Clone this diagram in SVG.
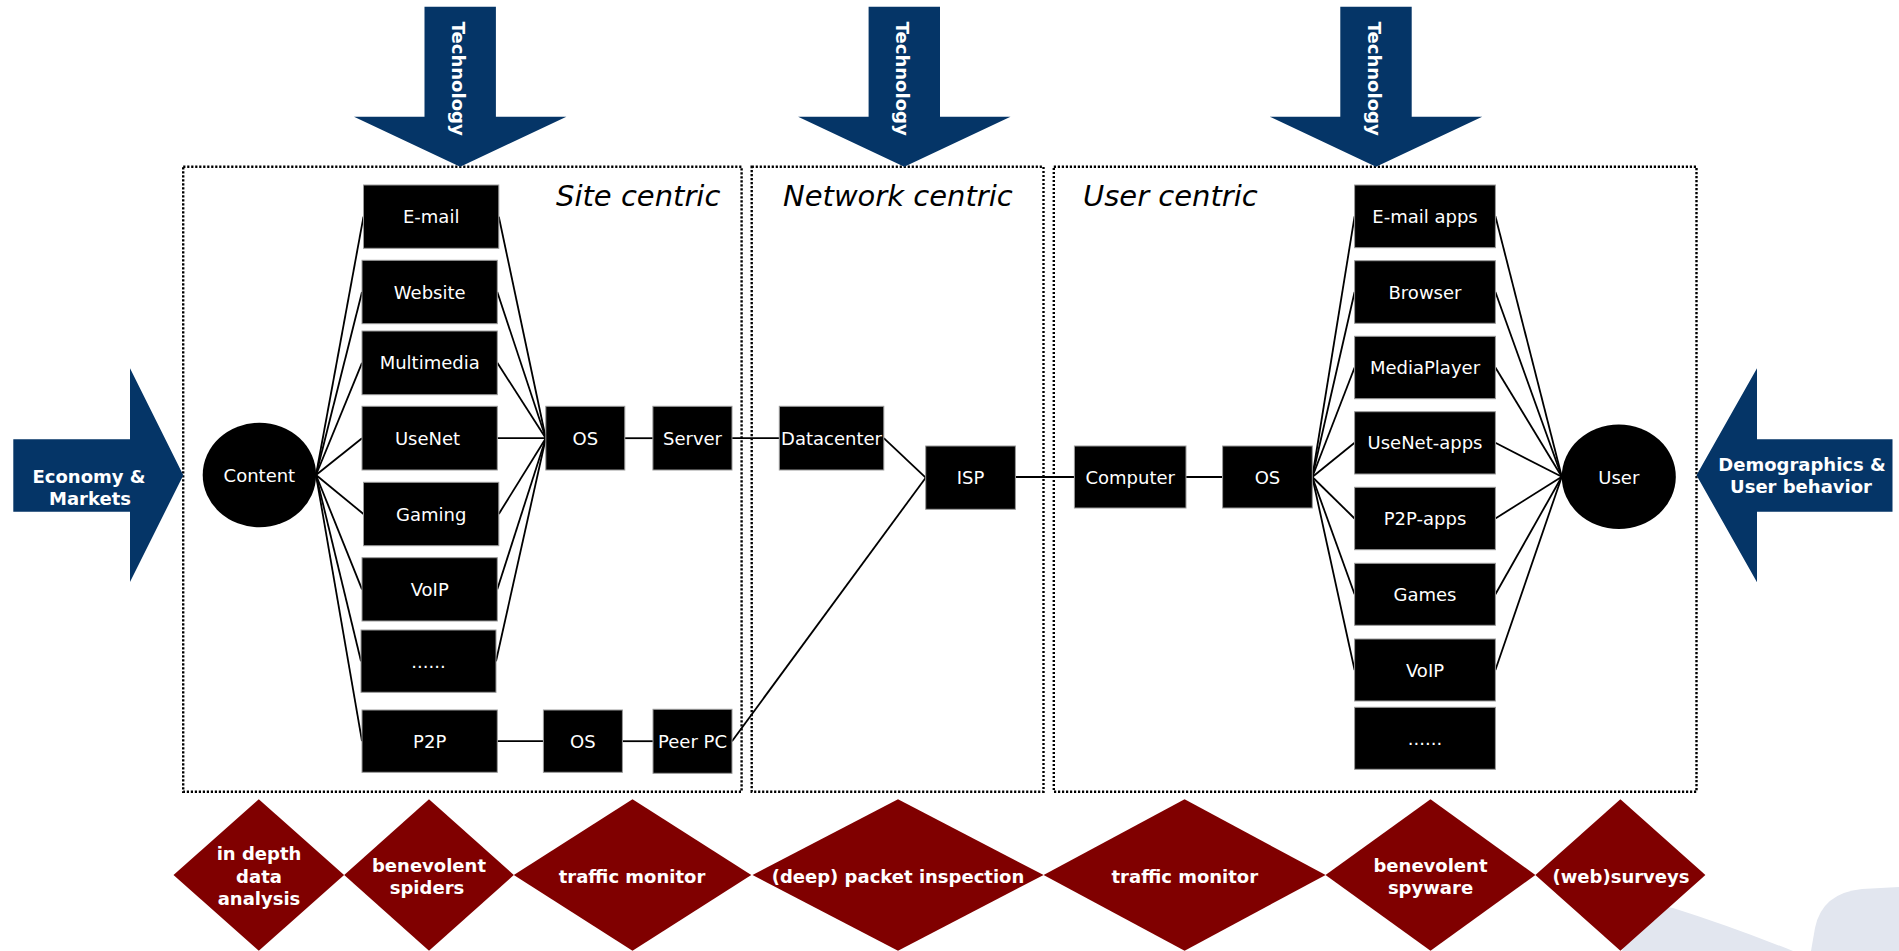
<svg xmlns="http://www.w3.org/2000/svg" width="1899" height="951" viewBox="0 0 1899 951">
  <style>
    .bg { fill: #ffffff; }
    .deco { fill: #e2e6ef; }
    .zone { fill: none; stroke: #000000; stroke-width: 2.4; stroke-dasharray: 2.2 1.8; }
    .zone-title { font-family: "DejaVu Sans", Verdana, sans-serif; font-style: italic; font-size: 29px; fill: #000000; }
    .box { fill: #000000; stroke: #9a9a9a; stroke-width: 1; }
    .blob { fill: #000000; }
    .lbl { font-family: "DejaVu Sans", Verdana, sans-serif; font-size: 18px; fill: #ffffff; text-anchor: middle; }
    .link { stroke: #000000; stroke-width: 1.8; fill: none; }
    .force { fill: #053567; }
    .force-txt { font-family: "DejaVu Sans", Verdana, sans-serif; font-weight: bold; font-size: 18px; fill: #ffffff; text-anchor: middle; }
    .method { fill: #800000; }
    .method-txt { font-family: "DejaVu Sans", Verdana, sans-serif; font-weight: bold; font-size: 18px; fill: #ffffff; text-anchor: middle; }
  </style>

  <rect class="bg" x="0" y="0" width="1899" height="951"/>

  <!-- template decoration, lower right -->
  <g id="decoration">
    <path class="deco" d="M1650,904 L1673,908 Q1730,926 1793,951 L1622,951 Z"/>
    <path class="deco" d="M1811,951 L1815,928 Q1822,893 1862,889 L1899,887 L1899,951 Z"/>
  </g>

  <!-- the three measurement zones -->
  <g id="zones">
    <g id="zone-site">
      <rect class="zone" x="183.2" y="166.7" width="558.4" height="625"/>
      <text class="zone-title" x="556" y="206">Site centric</text>
    </g>
    <g id="zone-network">
      <rect class="zone" x="751.7" y="166.7" width="291.8" height="625"/>
      <text class="zone-title" x="783" y="206">Network centric</text>
    </g>
    <g id="zone-user">
      <rect class="zone" x="1053.8" y="166.7" width="642.7" height="625"/>
      <text class="zone-title" x="1083" y="206">User centric</text>
    </g>
  </g>

  <!-- connectors -->
  <g id="connectors">
    <!-- content to services -->
    <line class="link" x1="316" y1="475" x2="363.5" y2="216.7"/>
    <line class="link" x1="316" y1="475" x2="362" y2="292"/>
    <line class="link" x1="316" y1="475" x2="362" y2="362.8"/>
    <line class="link" x1="316" y1="475" x2="362" y2="438.2"/>
    <line class="link" x1="316" y1="475" x2="363.5" y2="514"/>
    <line class="link" x1="316" y1="475" x2="362" y2="589.3"/>
    <line class="link" x1="316" y1="475" x2="361" y2="661.2"/>
    <line class="link" x1="316" y1="475" x2="362" y2="741.2"/>
    <!-- services to server OS -->
    <line class="link" x1="498.8" y1="216.7" x2="545.8" y2="438.2"/>
    <line class="link" x1="497.3" y1="292" x2="545.8" y2="438.2"/>
    <line class="link" x1="497.3" y1="362.8" x2="545.8" y2="438.2"/>
    <line class="link" x1="497.3" y1="438.2" x2="545.8" y2="438.2"/>
    <line class="link" x1="498.8" y1="514" x2="545.8" y2="438.2"/>
    <line class="link" x1="497.3" y1="589.3" x2="545.8" y2="438.2"/>
    <line class="link" x1="496" y1="661.2" x2="545.8" y2="438.2"/>
    <!-- server chain -->
    <line class="link" x1="624.8" y1="438.2" x2="652.9" y2="438.2"/>
    <line class="link" x1="732" y1="438.2" x2="779.3" y2="438.2"/>
    <line class="link" x1="883.8" y1="438.2" x2="925.7" y2="477.7"/>
    <!-- peer chain -->
    <line class="link" x1="497.3" y1="741.2" x2="543.4" y2="741.2"/>
    <line class="link" x1="622.4" y1="741.2" x2="653" y2="741.2"/>
    <line class="link" x1="732" y1="741.2" x2="925.7" y2="477.7"/>
    <!-- ISP to user side -->
    <line class="link" x1="1015.4" y1="477" x2="1074.4" y2="477"/>
    <line class="link" x1="1186" y1="477" x2="1222.6" y2="477"/>
    <!-- client OS to applications -->
    <line class="link" x1="1312.3" y1="477" x2="1354.6" y2="216.3"/>
    <line class="link" x1="1312.3" y1="477" x2="1354.6" y2="292"/>
    <line class="link" x1="1312.3" y1="477" x2="1354.6" y2="367.5"/>
    <line class="link" x1="1312.3" y1="477" x2="1354.6" y2="442.8"/>
    <line class="link" x1="1312.3" y1="477" x2="1354.6" y2="518.5"/>
    <line class="link" x1="1312.3" y1="477" x2="1354.6" y2="594.3"/>
    <line class="link" x1="1312.3" y1="477" x2="1354.6" y2="670"/>
    <!-- applications to user -->
    <line class="link" x1="1495.4" y1="216.3" x2="1561.8" y2="476.7"/>
    <line class="link" x1="1495.4" y1="292" x2="1561.8" y2="476.7"/>
    <line class="link" x1="1495.4" y1="367.5" x2="1561.8" y2="476.7"/>
    <line class="link" x1="1495.4" y1="442.8" x2="1561.8" y2="476.7"/>
    <line class="link" x1="1495.4" y1="518.5" x2="1561.8" y2="476.7"/>
    <line class="link" x1="1495.4" y1="594.3" x2="1561.8" y2="476.7"/>
    <line class="link" x1="1495.4" y1="670" x2="1561.8" y2="476.7"/>
  </g>

  <!-- site side nodes -->
  <g id="content">
    <ellipse class="blob" cx="259.4" cy="475" rx="56.7" ry="52.3"/>
    <text class="lbl" x="259.4" y="482">Content</text>
  </g>
  <g id="email">
    <rect class="box" x="363.5" y="185" width="135.3" height="63.3"/>
    <text class="lbl" x="431.2" y="223.2">E-mail</text>
  </g>
  <g id="website">
    <rect class="box" x="362" y="260.3" width="135.3" height="63.4"/>
    <text class="lbl" x="429.7" y="298.5">Website</text>
  </g>
  <g id="multimedia">
    <rect class="box" x="362" y="331" width="135.3" height="63.7"/>
    <text class="lbl" x="429.7" y="369.3">Multimedia</text>
  </g>
  <g id="usenet">
    <rect class="box" x="362" y="406.3" width="135.3" height="63.7"/>
    <text class="lbl" x="427.5" y="444.7">UseNet</text>
  </g>
  <g id="gaming">
    <rect class="box" x="363.5" y="482.3" width="135.3" height="63.4"/>
    <text class="lbl" x="431.2" y="520.5">Gaming</text>
  </g>
  <g id="voip">
    <rect class="box" x="362" y="557.7" width="135.3" height="63.3"/>
    <text class="lbl" x="429.7" y="595.8">VoIP</text>
  </g>
  <g id="more-services">
    <rect class="box" x="361" y="630" width="135" height="62.3"/>
    <text class="lbl" x="428.5" y="667.7" font-size="12">......</text>
  </g>
  <g id="p2p">
    <rect class="box" x="362" y="710" width="135.3" height="62.3"/>
    <text class="lbl" x="429.7" y="747.7">P2P</text>
  </g>
  <g id="server-os">
    <rect class="box" x="545.8" y="406.3" width="79" height="63.7"/>
    <text class="lbl" x="585.3" y="444.7">OS</text>
  </g>
  <g id="server">
    <rect class="box" x="652.9" y="406.3" width="79.1" height="63.7"/>
    <text class="lbl" x="692.5" y="444.7">Server</text>
  </g>
  <g id="peer-os">
    <rect class="box" x="543.4" y="710" width="79" height="62.3"/>
    <text class="lbl" x="582.9" y="747.7">OS</text>
  </g>
  <g id="peer-pc">
    <rect class="box" x="653" y="709.3" width="79" height="64"/>
    <text class="lbl" x="692.5" y="747.7">Peer PC</text>
  </g>

  <!-- network side nodes -->
  <g id="datacenter">
    <rect class="box" x="779.3" y="406.3" width="104.5" height="63.7"/>
    <text class="lbl" x="831.5" y="444.7">Datacenter</text>
  </g>
  <g id="isp">
    <rect class="box" x="925.7" y="446" width="89.7" height="63.3"/>
    <text class="lbl" x="970.5" y="484.2">ISP</text>
  </g>

  <!-- user side nodes -->
  <g id="computer">
    <rect class="box" x="1074.4" y="446" width="111.6" height="62"/>
    <text class="lbl" x="1130.2" y="483.5">Computer</text>
  </g>
  <g id="client-os">
    <rect class="box" x="1222.6" y="446" width="89.7" height="62"/>
    <text class="lbl" x="1267.5" y="483.5">OS</text>
  </g>
  <g id="email-apps">
    <rect class="box" x="1354.6" y="185" width="140.8" height="62.7"/>
    <text class="lbl" x="1425" y="222.8">E-mail apps</text>
  </g>
  <g id="browser">
    <rect class="box" x="1354.6" y="260.7" width="140.8" height="62.6"/>
    <text class="lbl" x="1425" y="298.5">Browser</text>
  </g>
  <g id="mediaplayer">
    <rect class="box" x="1354.6" y="336.3" width="140.8" height="62.4"/>
    <text class="lbl" x="1425" y="374">MediaPlayer</text>
  </g>
  <g id="usenet-apps">
    <rect class="box" x="1354.6" y="411.7" width="140.8" height="62.3"/>
    <text class="lbl" x="1425" y="449.3">UseNet-apps</text>
  </g>
  <g id="p2p-apps">
    <rect class="box" x="1354.6" y="487.3" width="140.8" height="62.4"/>
    <text class="lbl" x="1425" y="525">P2P-apps</text>
  </g>
  <g id="games">
    <rect class="box" x="1354.6" y="563.3" width="140.8" height="62"/>
    <text class="lbl" x="1425" y="600.8">Games</text>
  </g>
  <g id="voip-apps">
    <rect class="box" x="1354.6" y="639" width="140.8" height="62"/>
    <text class="lbl" x="1425" y="676.5">VoIP</text>
  </g>
  <g id="more-apps">
    <rect class="box" x="1354.6" y="707.3" width="140.8" height="62"/>
    <text class="lbl" x="1425" y="744.8" font-size="12">......</text>
  </g>
  <g id="user">
    <ellipse class="blob" cx="1618.8" cy="476.7" rx="57" ry="52.3"/>
    <text class="lbl" x="1618.8" y="483.5">User</text>
  </g>

  <!-- driving forces -->
  <g id="technology-site">
    <polygon class="force" points="424.5,6.7 495.9,6.7 495.9,116.7 566.4,116.7 460.2,166.7 354,116.7 424.5,116.7"/>
    <text class="force-txt" transform="translate(452.2,21.7) rotate(90)" style="text-anchor:start">Technology</text>
  </g>
  <g id="technology-network">
    <polygon class="force" points="868.6,6.7 940,6.7 940,116.7 1010.5,116.7 904.3,166.7 798.1,116.7 868.6,116.7"/>
    <text class="force-txt" transform="translate(896.3,21.7) rotate(90)" style="text-anchor:start">Technology</text>
  </g>
  <g id="technology-user">
    <polygon class="force" points="1340.3,6.7 1411.7,6.7 1411.7,116.7 1482.2,116.7 1376,166.7 1269.8,116.7 1340.3,116.7"/>
    <text class="force-txt" transform="translate(1368,21.7) rotate(90)" style="text-anchor:start">Technology</text>
  </g>
  <g id="economy">
    <polygon class="force" points="13.3,439.3 130,439.3 130,368.3 183.3,475.2 130,581.9 130,511.7 13.3,511.7"/>
    <text class="force-txt" x="89" y="482.7">Economy &amp;</text>
    <text class="force-txt" x="90" y="505">Markets</text>
  </g>
  <g id="demographics">
    <polygon class="force" points="1892.5,439.3 1757,439.3 1757,368.3 1696.5,475.2 1757,582.3 1757,511.7 1892.5,511.7"/>
    <text class="force-txt" x="1802" y="470.7">Demographics &amp;</text>
    <text class="force-txt" x="1801" y="493.3">User behavior</text>
  </g>

  <!-- measurement methods -->
  <g id="in-depth-analysis">
    <polygon class="method" points="173.5,875 258.8,799.3 344.1,875 258.8,950.7"/>
    <text class="method-txt" x="259" y="860">in depth</text>
    <text class="method-txt" x="259" y="882.5">data</text>
    <text class="method-txt" x="259" y="905">analysis</text>
  </g>
  <g id="benevolent-spiders">
    <polygon class="method" points="344.2,875 429,799.3 513.8,875 429,950.7"/>
    <text class="method-txt" x="429" y="871.8">benevolent</text>
    <text class="method-txt" x="427" y="894">spiders</text>
  </g>
  <g id="traffic-monitor-site">
    <polygon class="method" points="513.8,875 632.5,799.3 751.3,875 632.5,950.7"/>
    <text class="method-txt" x="632" y="882.5">traffic monitor</text>
  </g>
  <g id="packet-inspection">
    <polygon class="method" points="752.5,875 898,799.3 1043.6,875 898,950.7"/>
    <text class="method-txt" x="898" y="882.5">(deep) packet inspection</text>
  </g>
  <g id="traffic-monitor-user">
    <polygon class="method" points="1043.6,875 1184.6,799.3 1325.6,875 1184.6,950.7"/>
    <text class="method-txt" x="1184.8" y="882.5">traffic monitor</text>
  </g>
  <g id="benevolent-spyware">
    <polygon class="method" points="1325.5,875 1430.5,799.3 1535.4,875 1430.5,950.7"/>
    <text class="method-txt" x="1430.5" y="871.8">benevolent</text>
    <text class="method-txt" x="1430.5" y="894">spyware</text>
  </g>
  <g id="web-surveys">
    <polygon class="method" points="1535.4,875 1620.4,799.3 1705.4,875 1620.4,950.7"/>
    <text class="method-txt" x="1621" y="882.5">(web)surveys</text>
  </g>
</svg>
